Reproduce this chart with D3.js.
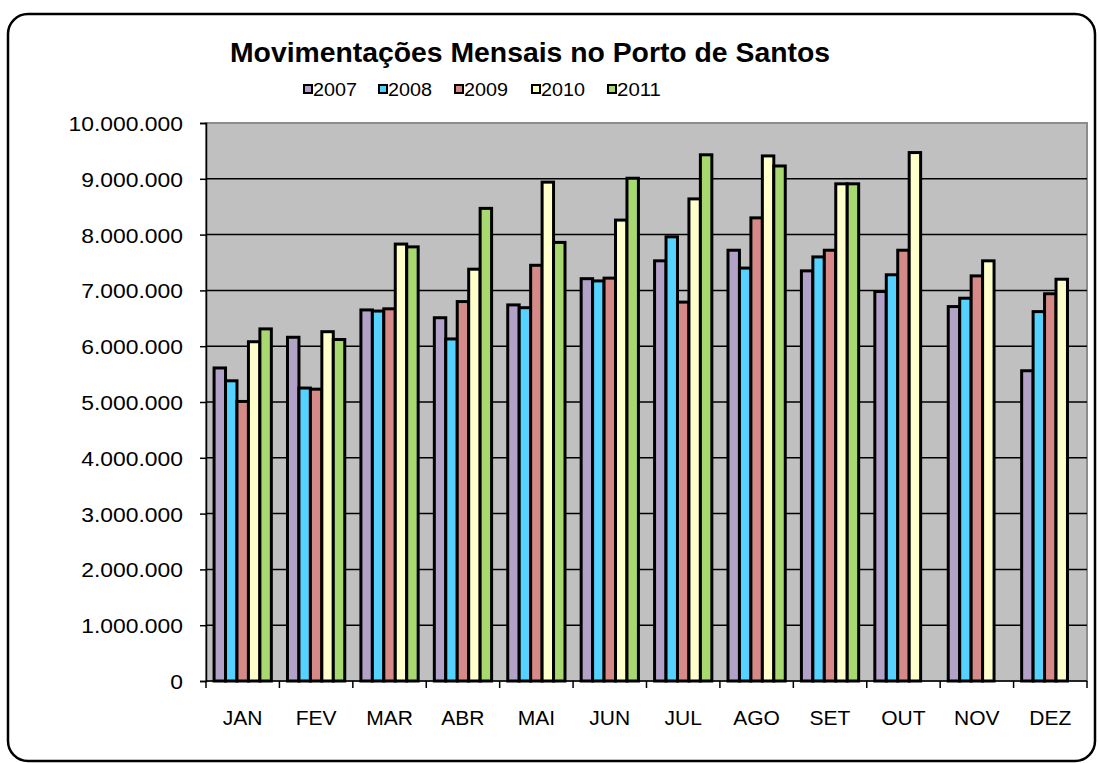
<!DOCTYPE html>
<html>
<head>
<meta charset="utf-8">
<script src="https://cdn.jsdelivr.net/npm/d3@7"></script>
<style>
  html, body { margin: 0; padding: 0; background: #fff; }
  svg { display: block; font-family: Arial, "Liberation Sans", sans-serif; }
</style>
</head>
<body>
<svg id="chart" width="1098" height="763"></svg>
<script>
const months = ["JAN","FEV","MAR","ABR","MAI","JUN","JUL","AGO","SET","OUT","NOV","DEZ"];
const years = ["2007","2008","2009","2010","2011"];
const colors = ["#B3A2C7","#55D2FF","#D68A88","#FFFFCC","#A8D870"];
const yTicks = [0,1000000,2000000,3000000,4000000,5000000,6000000,7000000,8000000,9000000,10000000];

const s2007 = [5610000,6160000,6650000,6510000,6740000,7210000,7530000,7720000,7350000,6980000,6710000,5560000];
const s2008 = [5380000,5250000,6630000,6130000,6690000,7170000,7960000,7400000,7600000,7280000,6860000,6620000];
const s2009 = [5010000,5230000,6670000,6800000,7450000,7220000,6790000,8300000,7720000,7720000,7260000,6940000];
const s2010 = [6080000,6260000,7830000,7380000,8940000,8260000,8640000,9410000,8910000,9470000,7530000,7200000];
const s2011 = [6310000,6120000,7780000,8470000,7860000,9010000,9430000,9230000,8910000,null,null,null];
const series = [s2007, s2008, s2009, s2010, s2011];

const svg = d3.select("#chart");

// outer frame
svg.append("rect")
  .attr("x", 8).attr("y", 14).attr("width", 1087).attr("height", 747)
  .attr("rx", 20).attr("ry", 20)
  .attr("fill", "#fff").attr("stroke", "#000").attr("stroke-width", 2.5);

const plot = {left: 206, top: 123, right: 1087, bottom: 681};

const x0 = d3.scaleBand().domain(months).range([plot.left, plot.right])
  .paddingInner(0.22).paddingOuter(0.11);
const x1 = d3.scaleBand().domain(years).range([0, x0.bandwidth()]).padding(0);
const y = d3.scaleLinear().domain([0, 10000000]).range([plot.bottom, plot.top]);

// plot area
svg.append("rect")
  .attr("x", plot.left).attr("y", plot.top)
  .attr("width", plot.right - plot.left).attr("height", plot.bottom - plot.top)
  .attr("fill", "#C0C0C0").attr("stroke", "#8C8C8C").attr("stroke-width", 2);

// gridlines
svg.append("g").selectAll("line")
  .data(yTicks.filter(d => d > 0 && d < 10000000))
  .join("line")
  .attr("x1", plot.left).attr("x2", plot.right)
  .attr("y1", d => y(d)).attr("y2", d => y(d))
  .attr("stroke", "#000").attr("stroke-width", 1.5);

// bars
const groups = svg.append("g").selectAll("g")
  .data(months)
  .join("g")
  .attr("transform", d => `translate(${x0(d)},0)`);

groups.selectAll("rect")
  .data((m, i) => years.map((yr, j) => ({yr, j, v: series[j][i]})).filter(d => d.v != null))
  .join("rect")
  .attr("x", d => x1(d.yr))
  .attr("y", d => y(d.v))
  .attr("width", x1.bandwidth())
  .attr("height", d => y(0) - y(d.v))
  .attr("fill", d => colors[d.j])
  .attr("stroke", "#000").attr("stroke-width", 3);

// y axis
const fmt = d => d3.format(",")(d).replace(/,/g, ".");
const yAxis = d3.axisLeft(y).tickValues(yTicks).tickSize(6).tickFormat(fmt);
const gy = svg.append("g").attr("transform", `translate(${plot.left},0)`).call(yAxis);
gy.select(".domain").attr("stroke", "#000").attr("stroke-width", 1.5);
gy.selectAll(".tick line").attr("stroke", "#000").attr("stroke-width", 1.5);
gy.selectAll(".tick text").remove();
gy.selectAll(".tick").append("text")
  .attr("transform", "translate(-23,0) scale(1.09,1)")
  .attr("dy", "0.36em")
  .attr("text-anchor", "end")
  .attr("font-size", 21).attr("fill", "#000")
  .attr("font-family", "Arial, 'Liberation Sans', sans-serif")
  .text(d => fmt(d));

// x axis
const gx = svg.append("g").attr("transform", `translate(0,${plot.bottom})`);
gx.append("line").attr("x1", plot.left).attr("x2", plot.right)
  .attr("stroke", "#000").attr("stroke-width", 1.5);
const bounds = d3.range(months.length + 1).map(i => plot.left + i * (plot.right - plot.left) / months.length);
gx.selectAll(".tk").data(bounds).join("line")
  .attr("x1", d => d).attr("x2", d => d).attr("y1", 0).attr("y2", 7)
  .attr("stroke", "#000").attr("stroke-width", 1.5);
gx.selectAll("text").data(months).join("text")
  .attr("x", d => x0(d) + x0.bandwidth() / 2)
  .attr("y", 44)
  .attr("text-anchor", "middle")
  .attr("font-size", 21)
  .text(d => d);

// title
svg.append("text")
  .attr("x", 530).attr("y", 62)
  .attr("text-anchor", "middle")
  .attr("font-size", 27).attr("font-weight", "bold")
  .attr("textLength", 600).attr("lengthAdjust", "spacingAndGlyphs")
  .text("Movimentações Mensais no Porto de Santos");

// legend
const legendX = [304, 379, 455, 532, 608];
const lg = svg.append("g").selectAll("g").data(years).join("g")
  .attr("transform", (d, i) => `translate(${legendX[i]},0)`);
lg.append("rect").attr("x", 0).attr("y", 85).attr("width", 8).attr("height", 8)
  .attr("fill", (d, i) => colors[i]).attr("stroke", "#000").attr("stroke-width", 2);
lg.append("text").attr("x", 9).attr("y", 96).attr("font-size", 18)
  .attr("textLength", 44).attr("lengthAdjust", "spacingAndGlyphs")
  .text(d => d);
</script>
</body>
</html>
